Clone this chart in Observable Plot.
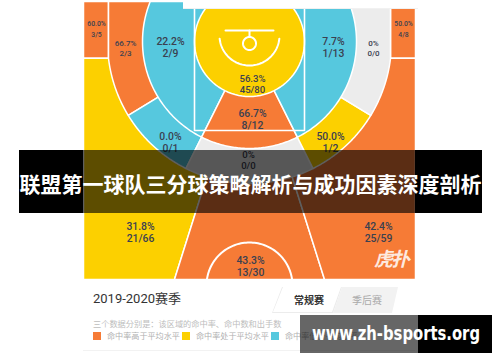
<!DOCTYPE html>
<html><head><meta charset="utf-8">
<script src="https://cdn.jsdelivr.net/npm/d3@7"></script>
<script src="https://cdn.jsdelivr.net/npm/@observablehq/plot@0.6"></script>
<style>
html,body{margin:0;padding:0;background:#fff;}
#wrap{position:relative;width:500px;height:362px;overflow:hidden;font-family:"Roboto","Noto Sans CJK SC",sans-serif;}
#chart{position:absolute;left:0;top:0;}
.abs{position:absolute;}
</style></head>
<body><div id="wrap"><div id="chart"></div></div>
<script>
// ---------- data ----------
const zones = ["左侧底角三分","右侧底角三分","左侧45度三分","正面三分","右侧45度三分",
               "左侧底线中投","左侧45度中投","正面中投","右侧45度中投","右侧底线中投",
               "左侧近距离","禁区","右侧近距离","篮下"];
const pctLabels = ["60.0%","50.0%","31.8%","43.3%","42.4%","66.7%","0.0%","0%","50.0%","0%","22.2%","66.7%","7.7%","56.3%"];
const made      = [3, 4, 21, 13, 25, 2, 0, 0, 1, 0, 2, 8, 1, 45];
const attempts  = [5, 8, 66, 30, 59, 3, 1, 0, 2, 0, 9, 12, 13, 80];
const levels    = ["高","高","中","高","高","高","低","无","中","无","低","高","低","中"];
const legendLabels = ["命中率高于平均水平","命中率处于平均水平","命中率低于平均水平"];
const season = "2019-2020赛季";
const tabs = ["常规赛","季后赛"];
const caption = "三个数据分别是：该区域的命中率、命中数和出手数";
const headline = "联盟第一球队三分球策略解析与成功因素深度剖析";
const siteMark = "www.zh-bsports.org";

// ---------- layout (court units, basket at origin) ----------
const colorOf = {"高":"#F67B36","中":"#FCD000","低":"#56C8DE","无":"#ECECEC"};
const C = {L:-166, R:166, T:-40, B:238, R3:142, Rin:107, Rra:55, CX:141};
const A = {baseWing:31.4, wingCenter:26.6, threeSplit:17.5};
const labelPos = [[-153,-12],[154,-12],[-109,191],[1,225],[129,191],
                  [-124,7],[-79,101],[-1,119],[81,101],[124,7],
                  [-79,6],[3,78],[84,6],[3,43]];
const labelClass = ["xs","xs","l","l","l","s","l","m","l","s","l","l","l","m"];
const classStyle = {xs:{size:6.8,gap:11}, s:{size:8,gap:10.5}, m:{size:9.6,gap:11.4}, l:{size:10.4,gap:12.2}};

const rad = d => d*Math.PI/180, deg = r => r*180/Math.PI;
const pt = (r,a,cx=0,cy=0) => [cx + r*Math.cos(rad(a)), cy + r*Math.sin(rad(a))];
const arc = (r,a0,a1,cx=0,cy=0,n=72) => d3.range(n+1).map(i => pt(r, a0+(a1-a0)*i/n, cx, cy));

const yc = Math.sqrt(C.R3*C.R3 - C.CX*C.CX);
const aC = deg(Math.atan2(yc, C.CX));
const aLB = 180 - A.baseWing, aRB = A.baseWing;
const aLW = 90 + A.wingCenter, aRW = 90 - A.wingCenter;
const a3L = 90 + A.threeSplit;
const xbL = C.B * Math.cos(rad(a3L)) / Math.sin(rad(a3L));
const xbR = -xbL;
const aTopIn = deg(Math.asin(-C.T / C.Rin));
const aTopRA = deg(Math.asin(-C.T / C.Rra));

const shapes = [
  [[C.L,C.T],[-C.CX,C.T],[-C.CX,yc],[C.L,yc]],
  [[C.R,C.T],[C.CX,C.T],[C.CX,yc],[C.R,yc]],
  [[C.L,yc],[-C.CX,yc],[0,0],[xbL,C.B],[C.L,C.B]],
  [[0,0],[xbL,C.B],[xbR,C.B]],
  [[C.R,yc],[C.CX,yc],[0,0],[xbR,C.B],[C.R,C.B]],
  [[0,0],[0,C.T],[-C.CX,C.T],[-C.CX,yc], ...arc(C.R3,180-aC,aLB)],
  [[0,0], ...arc(C.R3,aLB,aLW)],
  [[0,0], ...arc(C.R3,aLW,aRW)],
  [[0,0], ...arc(C.R3,aRW,aRB)],
  [[0,0], ...arc(C.R3,aRB,aC),[C.CX,yc],[C.CX,C.T],[0,C.T]],
  [[0,0],[0,C.T], ...arc(C.Rin,180+aTopIn,aLW)],
  [[0,0], ...arc(C.Rin,aLW,aRW)],
  [[0,0], ...arc(C.Rin,aRW,-aTopIn),[0,C.T]],
  arc(C.Rra,-aTopRA,180+aTopRA)
];
const closed = p => [...p, p[0]].map(([x,y]) => ({x,y}));

const zoneMarks = shapes.map((s,i) => Plot.line(closed(s), {
  x:"x", y:"y", fill: colorOf[levels[i]], stroke:"white", strokeWidth:1.5, strokeLinejoin:"round"
}));

// court markings
const toXY = p => p.map(([x,y]) => ({x,y}));
const paint = toXY([[-55,C.T],[-55,89],[55,89],[55,C.T]]);
const backboard = toXY([[-24,-11],[24,-11]]);
const stem = toXY([[0,-11],[0,-4.5]]);
const rim = toXY(arc(6.5,0,360,0,2));
const raArc = toXY(arc(30,6,174,0,-6));
const centerArc = toXY(arc(43,188,352,0,244));
const lineOpt = {x:"x", y:"y", stroke:"white", strokeWidth:2, fill:"none"};

const labels = zones.map((z,i) => ({
  x: labelPos[i][0], y: labelPos[i][1],
  pct: pctLabels[i], count: made[i] + "/" + attempts[i], cls: labelClass[i]
}));
const textMarks = Object.keys(classStyle).flatMap(k => {
  const rows = labels.filter(d => d.cls === k), st = classStyle[k];
  const common = {x:"x", y:"y", fontSize: st.size, fill:"#3b4150", fontWeight:500, fontFamily:"Roboto", lineAnchor:"middle"};
  return [
    Plot.text(rows, {...common, text:"pct", dy: -st.gap/2}),
    Plot.text(rows, {...common, text:"count", dy: st.gap/2})
  ];
});

const plot = Plot.plot({
  width:500, height:280, margin:0,
  x:{domain:[-249,251], range:[0,500], axis:null},
  y:{domain:[-41,239], range:[0,280], axis:null},
  marks:[
    ...zoneMarks,
    Plot.line(paint, {...lineOpt, strokeWidth:1.6}),
    Plot.line(backboard, lineOpt),
    Plot.line(stem, lineOpt),
    Plot.line(rim, lineOpt),
    Plot.line(raArc, lineOpt),
    Plot.line(centerArc, lineOpt),
    ...textMarks
  ]
});
document.getElementById("chart").appendChild(plot);

// ---------- overlays (html) ----------
const wrap = document.getElementById("wrap");
function box(css, html="") { const d = document.createElement("div"); d.className="abs"; d.style.cssText = css; d.innerHTML = html; wrap.appendChild(d); return d; }

box("left:183px;top:0;width:235px;height:8px;background:#fff;border-bottom:1px solid #f1f1f1;");
box("left:374px;top:244px;font:italic bold 19px 'Noto Sans CJK SC';color:rgba(255,255,255,0.85);letter-spacing:-2px;", "虎扑");

// bottom panel
box("left:93px;top:292px;font-size:13px;line-height:14px;color:#333;", season);
box("left:272px;top:287px;width:70px;height:26px;background:#ececec;clip-path:polygon(10px 0,100% 0,calc(100% - 9px) 100%,0 100%);");
box("left:273px;top:287px;width:68px;height:25px;background:#fff;clip-path:polygon(10px 0,100% 0,calc(100% - 9px) 100%,0 100%);");
box("left:333px;top:287px;width:65px;height:26px;background:#f2f2f2;clip-path:polygon(9px 0,100% 0,calc(100% - 6px) 100%,0 100%);");
box("left:290px;top:294px;width:38px;text-align:center;font-size:10px;line-height:14px;font-weight:bold;color:#333;", tabs[0]);
box("left:348px;top:294px;width:38px;text-align:center;font-size:10px;line-height:14px;color:#aaa;", tabs[1]);
box("left:93px;top:319px;font-size:8.2px;line-height:11px;color:#bdbdbd;white-space:nowrap;", caption);
const legX = [93,182,271], legC = [colorOf["高"],colorOf["中"],colorOf["低"]];
legendLabels.forEach((t,i) => {
  box(`left:${legX[i]}px;top:332px;width:8px;height:8px;background:${legC[i]};`);
  box(`left:${legX[i]+14}px;top:330.5px;font-size:8.1px;line-height:11px;color:#b0b0b0;white-space:nowrap;`, t);
});
box("left:83px;top:350px;width:332px;height:1px;background:#f2f2f2;");

// headline band
box("left:19px;top:150px;width:64px;height:63px;background:#000;");
box("left:83px;top:150px;width:332px;height:63px;background:rgba(0,0,0,0.63);");
box("left:415px;top:150px;width:67px;height:63px;background:#000;");
box("left:19px;top:150px;width:463px;height:63px;display:flex;align-items:center;justify-content:center;font:bold 21px 'Noto Sans CJK SC';color:#fff;white-space:nowrap;padding-top:3px;box-sizing:border-box;", headline);

// site watermark
box("left:300px;top:315px;width:118px;height:38px;background:rgba(0,0,0,0.6);");
box("left:418px;top:315px;width:74px;height:38px;background:#000;");
const wm = box("left:312px;top:321px;font:bold 19px 'DejaVu Sans';line-height:24px;color:#fff;white-space:nowrap;transform-origin:0 0;", siteMark);
const w = wm.getBoundingClientRect().width;
wm.style.transform = `scaleX(${168 / w})`;
</script>
</body></html>
